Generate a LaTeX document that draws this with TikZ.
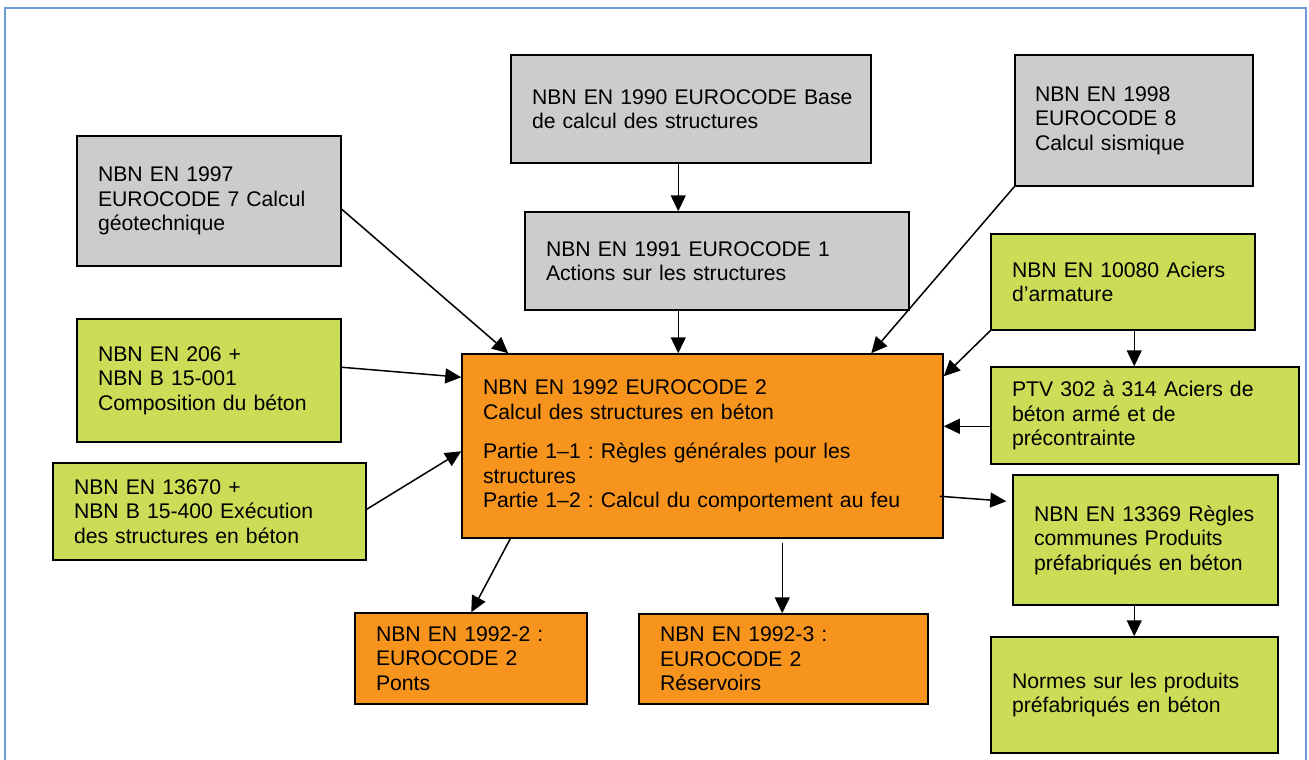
\documentclass[tikz,border=0pt]{standalone}
\usepackage{fontspec}
\setmainfont{Liberation Sans}
\frenchspacing
\usetikzlibrary{arrows.meta,calc}
\definecolor{gbox}{RGB}{204,204,204}
\definecolor{lbox}{RGB}{203,221,87}
\definecolor{obox}{RGB}{247,148,30}
\definecolor{framec}{RGB}{110,155,215}
\begin{document}
\begin{tikzpicture}[x=1pt,y=-1pt,
  bx/.style n args={3}{draw=black, line width=1.5pt, align=left, inner xsep=21pt, inner ysep=0pt,
     minimum width=#1pt, text width=#3pt, minimum height=#2pt,
     font=\fontsize{21.2}{24.5}\selectfont\frenchspacing},
  gray/.style={fill=gbox},
  green/.style={fill=lbox},
  orange/.style={fill=obox},
  arr/.style={line width=1.5pt, -{Triangle[length=16pt,width=15pt]}}]
\useasboundingbox (0,0) rectangle (1309,760);
\draw[framec, line width=2pt] (5,762) -- (5,8) -- (1306,8) -- (1306,762);

\node[bx={264}{130}{222}, gray] (g1997) at (209,201) {NBN EN 1997\\EUROCODE 7 Calcul\\géotechnique};
\node[bx={360}{108}{318}, gray] (g1990) at (691,109) {\mbox{NBN EN 1990 EUROCODE Base}\\de calcul des structures};
\node[bx={384}{98}{342}, gray] (g1991) at (717,261) {NBN EN 1991 EUROCODE 1\\Actions sur les structures};
\node[bx={238}{131}{198}, gray, inner xsep=20pt] (g1998) at (1134,120.5) {NBN EN 1998\\EUROCODE 8\\Calcul sismique};

\node[bx={264}{123}{222}, green] (g206) at (209,380.5) {NBN EN 206 +\\NBN B 15-001\\Composition du béton};
\node[bx={313}{97}{271}, green] (g13670) at (209.5,511.5) {NBN EN 13670 +\\NBN B 15-400 Exécution\\des structures en béton};

\node[bx={481}{184}{439}, orange] (main) at (702.5,446) {NBN EN 1992 EUROCODE 2\\Calcul des structures en béton\\[15pt]Partie 1–1 : Règles générales pour les\\structures\\Partie 1–2 : Calcul du comportement au feu};

\node[bx={264}{96}{222}, green] (g10080) at (1123,282) {NBN EN 10080 Aciers\\d’armature};
\node[bx={308}{97}{266}, green] (ptv) at (1145,415.5) {PTV 302 à 314 Aciers de\\béton armé et de\\précontrainte};
\node[bx={265}{130}{223}, green] (g13369) at (1145.5,540) {NBN EN 13369 Règles\\communes Produits\\préfabriqués en béton};
\node[bx={287}{116}{245}, green] (normes) at (1134.5,695) {Normes sur les produits\\préfabriqués en béton};

\node[bx={232}{91}{190}, orange] (o2) at (471,658.5) {NBN EN 1992-2 :\\EUROCODE 2\\Ponts};
\node[bx={289}{90}{247}, orange] (o3) at (783.5,659) {NBN EN 1992-3 :\\EUROCODE 2\\Réservoirs};

\draw[arr] ($(g1997.north east)+(0,74)$) -- ($(main.north west)+(47,0)$);
\draw[arr] ($(g1990.south west)+(168,0)$) -- ($(g1991.north west)+(154,0)$);
\draw[arr] ($(g1991.south west)+(154,0)$) -- ($(main.north west)+(217,0)$);
\draw[arr] (g1998.south west) -- ($(main.north west)+(410,0)$);
\draw[arr] (g10080.south west) -- ($(main.north east)+(0,23)$);
\draw[arr] ($(ptv.north west)+(0,60)$) -- ($(main.north east)+(0,73)$);
\draw[arr] ($(main.north east)+(-4,143)$) -- ($(g13369.north west)+(-6,27)$);
\draw[arr] ($(g206.north east)+(0,49)$) -- ($(main.north west)+(0,24)$);
\draw[arr] ($(g13670.north east)+(0,47)$) -- ($(main.north west)+(0,98)$);
\draw[arr] ($(main.south west)+(49,0)$) -- ($(o2.north west)+(117,0)$);
\draw[arr] ($(main.south west)+(321,4)$) -- ($(o3.north west)+(144,0)$);
\draw[arr] ($(g10080.south west)+(144,0)$) -- ($(ptv.north west)+(144,0)$);
\draw[arr] ($(g13369.south west)+(122,0)$) -- ($(normes.north west)+(144,0)$);
\end{tikzpicture}
\end{document}
